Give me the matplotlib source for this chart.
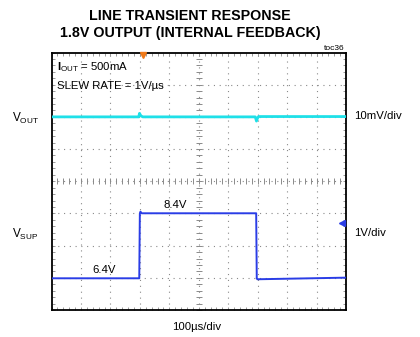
import numpy as np
import matplotlib
matplotlib.use("Agg")
import matplotlib.pyplot as plt

plt.rcParams['font.family'] = ['Liberation Sans', 'DejaVu Sans']
plt.rcParams['mathtext.fontset'] = 'custom'
plt.rcParams['mathtext.rm'] = 'Liberation Sans'
plt.rcParams['mathtext.bf'] = 'Liberation Sans:bold'
plt.rcParams['mathtext.it'] = 'Liberation Sans'
plt.rcParams['lines.scale_dashes'] = False

# ---- data (time in microseconds) ----
vsup_t = [0, 298, 300, 302, 306, 695, 697, 699, 1000]
vsup_v = [6.40, 6.40, 8.40, 8.47, 8.42, 8.42, 6.40, 6.37, 6.42]   # volts

vout_t = [0, 296, 299, 301, 304, 310, 692, 696, 699, 703, 1000]
vout_mv = [0.0, 0.0, 1.1, 0.7, 0.3, 0.0, 0.0, -1.3, -0.5, 0.1, 0.1]  # mV deviation from 1.8V

# scope settings
time_per_div = 100.0      # us/div
vsup_per_div = 1.0        # V/div
vsup_offset_div = 0.985 - 6.4   # 6.4V sits ~1 div above bottom
vout_per_div = 10.0       # mV/div
vout_zero_div = 6.0

trigger_t = 310
vsup_marker_div = 2.69

W, H = 420, 337
fig = plt.figure(figsize=(W / 100, H / 100), dpi=100)
L, R, T, B = 51.5, 346.0, 52.5, 310.0
ax = fig.add_axes([L / W, 1 - B / H, (R - L) / W, (B - T) / H])
ax.set_xlim(0, 10)
ax.set_ylim(0, 8)

gridc = '#8a8a8a'
for k in range(1, 10):
    ax.axvline(k, color=gridc, lw=0.8, ls=(0, (0.8, 3.45)), zorder=1)
for k in range(1, 8):
    ax.axhline(k, color=gridc, lw=0.8, ls=(0, (0.8, 3.35)), zorder=1)

# center cross tick marks
mx = np.arange(0, 10.01, 0.2)
my = np.arange(0, 8.01, 0.2)
ax.plot(mx, np.full_like(mx, 4.0), ls='none', marker='|', ms=4, mew=0.7, color=gridc, zorder=1)
ax.plot(np.full_like(my, 5.0), my, ls='none', marker='_', ms=4, mew=0.7, color=gridc, zorder=1)

ax.set_xticks(np.arange(0, 10.01, 1))
ax.set_yticks(np.arange(0, 8.01, 1))
ax.set_xticks(mx, minor=True)
ax.set_yticks(my, minor=True)
ax.tick_params(which='both', direction='in', top=True, right=True, length=2.2,
               width=0.6, colors=gridc, labelbottom=False, labelleft=False)
for s in ax.spines.values():
    s.set_linewidth(1.3)
    s.set_color('black')

# traces
xt = np.array(vsup_t) / time_per_div
ax.plot(xt, np.array(vsup_v) / vsup_per_div + vsup_offset_div, color='#2a3de6', lw=1.4, zorder=3)
xo = np.array(vout_t) / time_per_div
ax.plot(xo, np.array(vout_mv) / vout_per_div + vout_zero_div, color='#1ee0e8', lw=2.0, zorder=3)

# markers
ax.plot([trigger_t / time_per_div], [7.93], marker='v', ms=4, color='#f07a1a', clip_on=False, zorder=4)
ax.plot([9.85], [vsup_marker_div], marker='<', ms=4, color='#2a3de6', clip_on=False, zorder=4)

# annotations inside
ax.text(0.2, 7.55, r'$\mathbf{I}_{\mathrm{OUT}}$ = 500mA', fontsize=8.2, va='center', ha='left')
ax.text(0.2, 6.95, 'SLEW RATE = 1V/\u00b5s', fontsize=8.2, va='center', ha='left')
ax.text(4.2, 3.25, '8.4V', fontsize=8.2, va='center', ha='center')
ax.text(1.8, 1.25, '6.4V', fontsize=8.2, va='center', ha='center')

# outside texts (figure pixels)
def ftext(x, y, s, **kw):
    fig.text(x / W, 1 - y / H, s, **kw)

title_kw = dict(fontsize=10.3, fontweight='bold', ha='center', va='center',
                family=['Liberation Sans Narrow', 'Liberation Sans', 'DejaVu Sans'])
ftext(190, 16.5, 'LINE TRANSIENT RESPONSE', **title_kw)
ftext(190, 33.5, '1.8V OUTPUT (INTERNAL FEEDBACK)', **title_kw)
ftext(345, 48, 'toc36', fontsize=6, ha='right', va='center')
ftext(12, 118, r'V$_{\mathrm{OUT}}$', fontsize=8.5, ha='left', va='center')
ftext(12, 234, r'V$_{\mathrm{SUP}}$', fontsize=8.5, ha='left', va='center')
ftext(354, 116, '10mV/div', fontsize=8.2, ha='left', va='center')
ftext(354, 233, '1V/div', fontsize=8.2, ha='left', va='center')
ftext(197, 327, '100\u00b5s/div', fontsize=8.2, ha='center', va='center')

fig.savefig('out.png', dpi=100)
